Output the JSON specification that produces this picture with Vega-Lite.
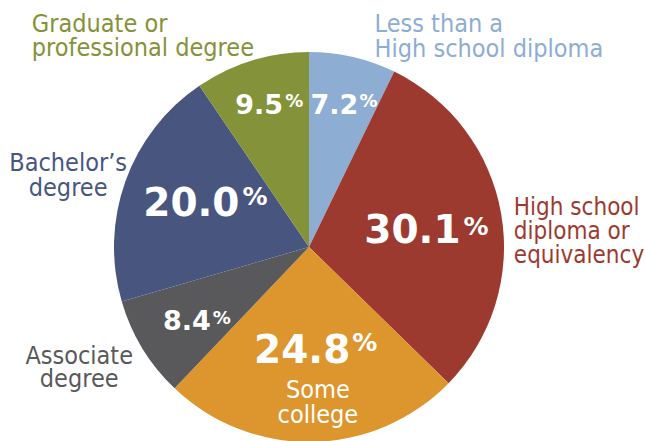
{
  "$schema": "https://vega.github.io/schema/vega-lite/v6.json",
  "width": 618,
  "height": 494,
  "autosize": "none",
  "padding": {"left": 0, "top": 0, "right": 27, "bottom": -53},
  "background": "white",
  "view": {"stroke": null},
  "data": {
    "values": [
      {"rank": 1, "level": "Less than a High school diploma", "label": "Less than a|High school diploma", "pct": 7.2},
      {"rank": 2, "level": "High school diploma or equivalency", "label": "High school|diploma or|equivalency", "pct": 30.1},
      {"rank": 3, "level": "Some college", "label": "Some|college", "pct": 24.8},
      {"rank": 4, "level": "Associate degree", "label": "Associate|degree", "pct": 8.4},
      {"rank": 5, "level": "Bachelor’s degree", "label": "Bachelor’s|degree", "pct": 20.0},
      {"rank": 6, "level": "Graduate or professional degree", "label": "Graduate or|professional degree", "pct": 9.5}
    ]
  },
  "encoding": {
    "theta": {"field": "pct", "type": "quantitative", "stack": true},
    "order": {"field": "rank", "type": "quantitative"}
  },
  "layer": [
    {
      "mark": {"type": "arc", "outerRadius": 195},
      "encoding": {
        "color": {
          "field": "level",
          "type": "nominal",
          "legend": null,
          "scale": {
            "domain": ["Less than a High school diploma", "High school diploma or equivalency", "Some college", "Associate degree", "Bachelor’s degree", "Graduate or professional degree"],
            "range": ["#8DADD3", "#9C3A30", "#DD952E", "#59595B", "#48567F", "#849239"]
          }
        }
      }
    },

    {"mark": {"type": "text", "radius": 136, "dx": -5, "align": "center", "baseline": "alphabetic", "font": "DejaVu Sans", "fontWeight": "bold", "fontSize": 27, "fill": "white"},
     "encoding": {"text": {"condition": {"test": "datum.rank == 1", "field": "pct", "type": "quantitative", "format": ".1f"}, "value": ""}}},
    {"mark": {"type": "text", "radius": 105, "dy": 14, "align": "center", "baseline": "alphabetic", "font": "DejaVu Sans", "fontWeight": "bold", "fontSize": 39, "fill": "white"},
     "encoding": {"text": {"condition": {"test": "datum.rank == 2", "field": "pct", "type": "quantitative", "format": ".1f"}, "value": ""}}},
    {"mark": {"type": "text", "radius": 116, "dx": -9, "align": "center", "baseline": "alphabetic", "font": "DejaVu Sans", "fontWeight": "bold", "fontSize": 39, "fill": "white"},
     "encoding": {"text": {"condition": {"test": "datum.rank == 3", "field": "pct", "type": "quantitative", "format": ".1f"}, "value": ""}}},
    {"mark": {"type": "text", "radius": 143, "dy": 9, "align": "center", "baseline": "alphabetic", "font": "DejaVu Sans", "fontWeight": "bold", "fontSize": 27, "fill": "white"},
     "encoding": {"text": {"condition": {"test": "datum.rank == 4", "field": "pct", "type": "quantitative", "format": ".1f"}, "value": ""}}},
    {"mark": {"type": "text", "radius": 125, "dy": 11, "align": "center", "baseline": "alphabetic", "font": "DejaVu Sans", "fontWeight": "bold", "fontSize": 39, "fill": "white"},
     "encoding": {"text": {"condition": {"test": "datum.rank == 5", "field": "pct", "type": "quantitative", "format": ".1f"}, "value": ""}}},
    {"mark": {"type": "text", "radius": 139, "dx": -9, "align": "center", "baseline": "alphabetic", "font": "DejaVu Sans", "fontWeight": "bold", "fontSize": 27, "fill": "white"},
     "encoding": {"text": {"condition": {"test": "datum.rank == 6", "field": "pct", "type": "quantitative", "format": ".1f"}, "value": ""}}},

    {"mark": {"type": "text", "radius": 136, "dx": 20, "dy": -7.5, "align": "left", "baseline": "alphabetic", "font": "DejaVu Sans", "fontWeight": "bold", "fontSize": 18, "fill": "white"},
     "encoding": {"text": {"condition": {"test": "datum.rank == 1", "value": "%"}, "value": ""}}},
    {"mark": {"type": "text", "radius": 105, "dx": 51, "dy": 6, "align": "left", "baseline": "alphabetic", "font": "DejaVu Sans", "fontWeight": "bold", "fontSize": 25, "fill": "white"},
     "encoding": {"text": {"condition": {"test": "datum.rank == 2", "value": "%"}, "value": ""}}},
    {"mark": {"type": "text", "radius": 116, "dx": 41, "dy": -12, "align": "left", "baseline": "alphabetic", "font": "DejaVu Sans", "fontWeight": "bold", "fontSize": 25, "fill": "white"},
     "encoding": {"text": {"condition": {"test": "datum.rank == 3", "value": "%"}, "value": ""}}},
    {"mark": {"type": "text", "radius": 143, "dx": 26, "dy": 3, "align": "left", "baseline": "alphabetic", "font": "DejaVu Sans", "fontWeight": "bold", "fontSize": 18, "fill": "white"},
     "encoding": {"text": {"condition": {"test": "datum.rank == 4", "value": "%"}, "value": ""}}},
    {"mark": {"type": "text", "radius": 125, "dx": 51, "dy": 0, "align": "left", "baseline": "alphabetic", "font": "DejaVu Sans", "fontWeight": "bold", "fontSize": 25, "fill": "white"},
     "encoding": {"text": {"condition": {"test": "datum.rank == 5", "value": "%"}, "value": ""}}},
    {"mark": {"type": "text", "radius": 139, "dx": 17, "dy": -7, "align": "left", "baseline": "alphabetic", "font": "DejaVu Sans", "fontWeight": "bold", "fontSize": 18, "fill": "white"},
     "encoding": {"text": {"condition": {"test": "datum.rank == 6", "value": "%"}, "value": ""}}},

    {"mark": {"type": "text", "radius": 221, "dx": 16, "align": "left", "baseline": "alphabetic", "lineBreak": "|", "lineHeight": 25, "font": "DejaVu Sans Condensed, DejaVu Sans, sans-serif", "fontSize": 25, "fill": "#8DADD3"},
     "encoding": {"text": {"condition": {"test": "datum.rank == 1", "field": "label"}, "value": ""}}},
    {"mark": {"type": "text", "radius": 211, "dx": -3, "dy": 4, "align": "left", "baseline": "alphabetic", "lineBreak": "|", "lineHeight": 24, "font": "DejaVu Sans Condensed, DejaVu Sans, sans-serif", "fontSize": 24, "fill": "#9C3A30"},
     "encoding": {"text": {"condition": {"test": "datum.rank == 2", "field": "label"}, "value": ""}}},
    {"mark": {"type": "text", "radius": 151, "dx": 6, "align": "center", "baseline": "alphabetic", "lineBreak": "|", "lineHeight": 25, "font": "DejaVu Sans Condensed, DejaVu Sans, sans-serif", "fontSize": 25, "fill": "white"},
     "encoding": {"text": {"condition": {"test": "datum.rank == 3", "field": "label"}, "value": ""}}},
    {"mark": {"type": "text", "radius": 269, "dy": -23, "align": "center", "baseline": "alphabetic", "lineBreak": "|", "lineHeight": 23.5, "font": "DejaVu Sans Condensed, DejaVu Sans, sans-serif", "fontSize": 25, "fill": "#59595B"},
     "encoding": {"text": {"condition": {"test": "datum.rank == 4", "field": "label"}, "value": ""}}},
    {"mark": {"type": "text", "radius": 256, "dy": 11, "align": "center", "baseline": "alphabetic", "lineBreak": "|", "lineHeight": 25, "font": "DejaVu Sans Condensed, DejaVu Sans, sans-serif", "fontSize": 25, "fill": "#48567F"},
     "encoding": {"text": {"condition": {"test": "datum.rank == 5", "field": "label"}, "value": ""}}},
    {"mark": {"type": "text", "radius": 225, "dx": -211, "align": "left", "baseline": "alphabetic", "lineBreak": "|", "lineHeight": 24, "font": "DejaVu Sans Condensed, DejaVu Sans, sans-serif", "fontSize": 25, "fill": "#849239"},
     "encoding": {"text": {"condition": {"test": "datum.rank == 6", "field": "label"}, "value": ""}}}
  ]
}
